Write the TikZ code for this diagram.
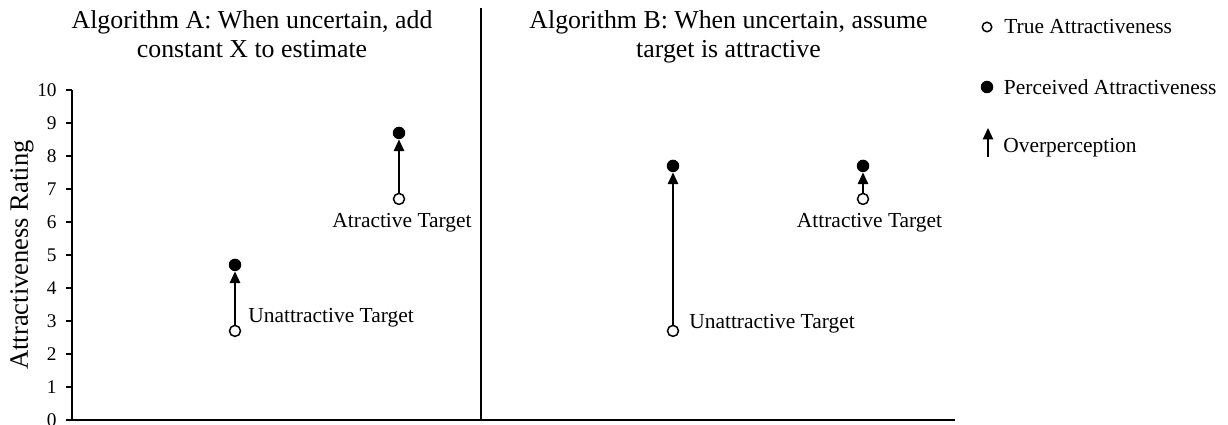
\documentclass[tikz,border=0pt]{standalone}
\usepackage{fontspec}
\setmainfont{Liberation Serif}
\usetikzlibrary{arrows.meta,positioning}
\tikzset{
  truept/.style={circle,draw=black,line width=0.85pt,fill=white,inner sep=0pt,minimum size=0.22cm},
  percpt/.style={circle,fill=black,inner sep=0pt,minimum size=0.25cm},
  overarr/.style={-{Triangle[width=0.21cm,length=0.23cm]},line width=0.6pt,black},
  axisln/.style={line width=0.75pt,black},
  lbl/.style={inner sep=0pt,font=\fontsize{12.2}{14}\selectfont},
  ttl/.style={inner sep=0pt,align=center,anchor=north,font=\fontsize{14.7}{16.5}\selectfont},
  ticklbl/.style={inner sep=0pt,anchor=east,font=\fontsize{11}{13}\selectfont}
}
\begin{document}
\begin{tikzpicture}[x=0.02cm,y=0.02cm]
\useasboundingbox (0,0) rectangle (1228,425);
% panel titles
\node[ttl] (ttla) at (252,415) {Algorithm A: When uncertain, add\\constant X to estimate};
\node[ttl] (ttlb) at (728.5,415) {Algorithm B: When uncertain, assume\\target is attractive};
% plot area, y in rating units
\begin{scope}[shift={(0,5)},y=0.66cm]
\draw[axisln] (72,10) -- (72,0) -- (955,0);
\draw[axisln] (481,12.48) -- (481,0);
\foreach \r in {0,...,10} {
  \draw[axisln] (66,\r) -- (72,\r);
  \node[ticklbl] (tk\r) at (57,\r) {\r};
}
\node[lbl,rotate=90,font=\fontsize{15.1}{17}\selectfont] (ylab) at (22,5) {Attractiveness Rating};
% algorithm A
\node[truept] (ua) at (235,2.7) {};
\node[percpt] (uap) at (235,4.7) {};
\node[truept] (aa) at (399,6.7) {};
\node[percpt] (aap) at (399,8.7) {};
\draw[overarr] (ua) -- (uap);
\draw[overarr] (aa) -- (aap);
\node[lbl,anchor=base west] (ualab) at (248,2.94) {Unattractive Target};
\node[lbl,anchor=base] (aalab) at (402,5.82) {Atractive Target};
% algorithm B
\node[truept] (ub) at (673,2.7) {};
\node[percpt] (ubp) at (673,7.7) {};
\node[truept] (ab) at (863,6.7) {};
\node[percpt] (abp) at (863,7.7) {};
\draw[overarr] (ub) -- (ubp);
\draw[overarr] (ab) -- (abp);
\node[lbl,anchor=base west] (ublab) at (689,2.76) {Unattractive Target};
\node[lbl,anchor=base] (ablab) at (869.5,5.82) {Attractive Target};
\end{scope}
% legend
\node[truept,minimum size=0.19cm] (legt) at (987,398) {};
\node[percpt] (legp) at (987,338) {};
\coordinate (legalo) at (988,268);
\coordinate (legahi) at (988,297);
\draw[overarr] (legalo) -- (legahi);
\node[lbl,anchor=west,right=0.23cm of legt] (legttxt) {True Attractiveness};
\node[lbl,anchor=west,right=0.2cm of legp] (legptxt) {Perceived Attractiveness};
\node[lbl,anchor=west] (legatxt) at (1003,277) {Overperception};
\end{tikzpicture}
\end{document}
